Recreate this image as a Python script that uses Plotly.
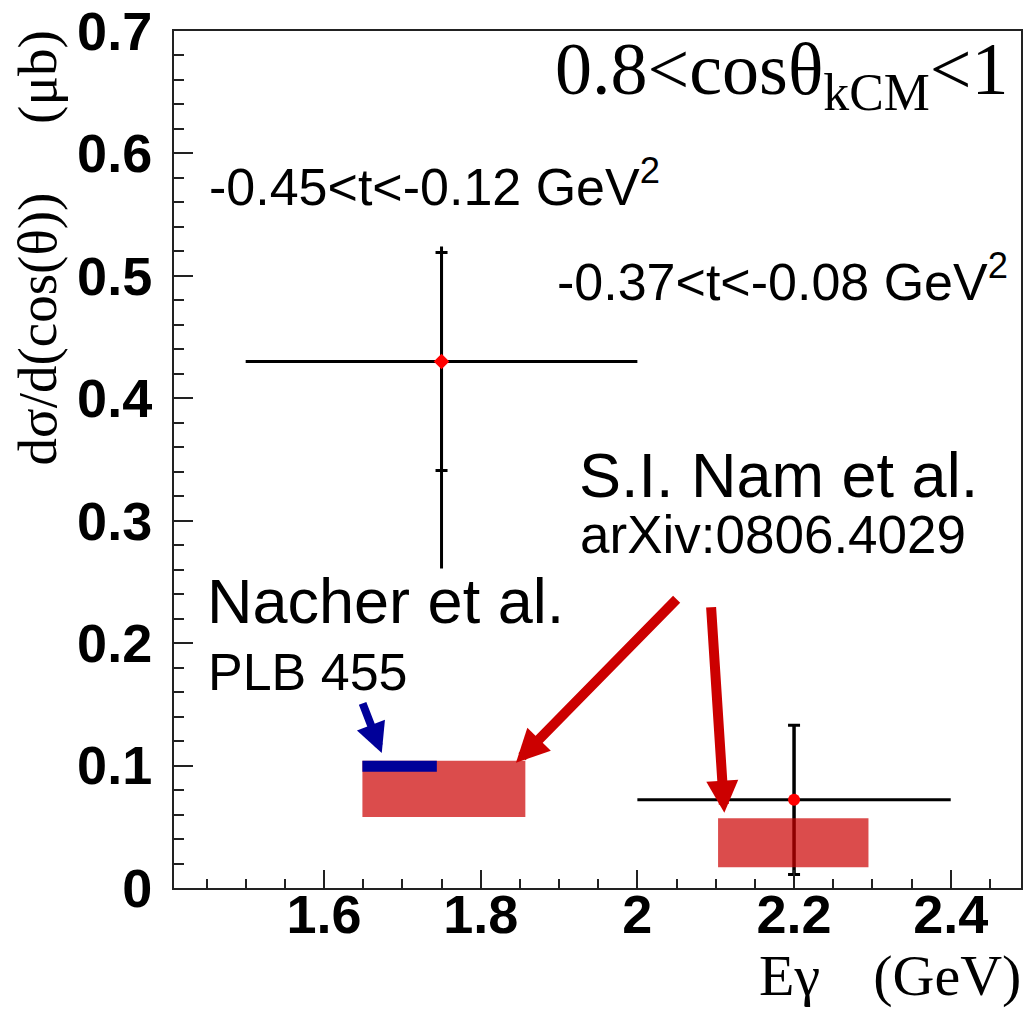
import plotly.graph_objects as go

# Measured cross sections per photon-energy bin
e_gamma = [1.75, 2.2]
e_halfwidth = [0.25, 0.2]
dsigma = [0.43, 0.072]
stat_err = [0.089, 0.061]
tot_err_plus = [0.094, 0.061]
tot_err_minus = [0.169, 0.061]
point_symbols = ["diamond", "circle"]

# S.I. Nam et al. model bands
nam_e_lo = [1.649, 2.103]
nam_e_hi = [1.857, 2.295]
nam_xs_lo = [0.058, 0.017]
nam_xs_hi = [0.104, 0.057]

# Nacher et al. prediction
nacher_e_lo = [1.649]
nacher_e_hi = [1.744]
nacher_xs_lo = [0.095]
nacher_xs_hi = [0.104]

x_ticks = [1.6, 1.8, 2.0, 2.2, 2.4]
x_tick_labels = ["1.6", "1.8", "2", "2.2", "2.4"]
y_ticks = [0, 0.1, 0.2, 0.3, 0.4, 0.5, 0.6, 0.7]
y_tick_labels = ["0", "0.1", "0.2", "0.3", "0.4", "0.5", "0.6", "0.7"]

W, H = 1025, 1009
PLOT_L, PLOT_R, PLOT_T, PLOT_B = 174, 1021, 31, 888


def px(xp):
    return (xp - PLOT_L) / (PLOT_R - PLOT_L)


def py(yp):
    return (PLOT_B - yp) / (PLOT_B - PLOT_T)


AX = "#222222"
SANS = "Liberation Sans"
SERIF = "Liberation Serif"

fig = go.Figure()

# total (stat + syst) error bars
fig.add_trace(go.Scatter(
    x=e_gamma, y=dsigma, mode="markers",
    marker=dict(size=1, color="rgba(0,0,0,0)"),
    error_y=dict(type="data", symmetric=False, array=tot_err_plus,
                 arrayminus=tot_err_minus, width=0, thickness=3, color="black"),
    hoverinfo="skip", showlegend=False,
))

# data points with bin widths and statistical errors
fig.add_trace(go.Scatter(
    x=e_gamma, y=dsigma, mode="markers",
    marker=dict(size=12, color="#ff0000", symbol=point_symbols),
    error_x=dict(type="data", array=e_halfwidth, width=0, thickness=3, color="black"),
    error_y=dict(type="data", array=stat_err, width=6, thickness=3, color="black"),
    showlegend=False,
))

shapes = []
for x0, x1, y0, y1 in zip(nam_e_lo, nam_e_hi, nam_xs_lo, nam_xs_hi):
    shapes.append(dict(type="rect", xref="x", yref="y", x0=x0, x1=x1, y0=y0, y1=y1,
                       fillcolor="rgba(204,0,0,0.7)", line=dict(width=0), layer="above"))
for x0, x1, y0, y1 in zip(nacher_e_lo, nacher_e_hi, nacher_xs_lo, nacher_xs_hi):
    shapes.append(dict(type="rect", xref="x", yref="y", x0=x0, x1=x1, y0=y0, y1=y1,
                       fillcolor="#000099", line=dict(width=0), layer="above"))

annotations = []


def label(text, xp, yp, size, family=SANS, xanchor="left", yanchor="bottom", angle=0):
    annotations.append(dict(
        text=text, xref="paper", yref="paper", x=px(xp), y=py(yp),
        xanchor=xanchor, yanchor=yanchor, showarrow=False, textangle=angle,
        borderpad=0, borderwidth=0,
        font=dict(family=family, size=size, color="black"),
    ))


label("0.8&lt;cosθ<sub>kCM</sub>&lt;1", 1009, 28, 74, SERIF, "right", "top")
label("-0.45&lt;t&lt;-0.12 GeV<sup>2</sup>", 209, 216, 52)
label("-0.37&lt;t&lt;-0.08 GeV<sup>2</sup>", 557, 311, 52)
label("S.I. Nam et al.", 579, 510, 63)
label("arXiv:0806.4029", 580, 564, 53)
label("Nacher et al.", 207, 636, 63)
label("PLB 455", 208, 701, 52)
label("Eγ\u00a0\u00a0\u00a0\u2006(GeV)", 759, 1007.5, 58, SERIF)
label("dσ/d(cos(θ))\u00a0\u00a0\u00a0\u00a0\u00a0(μb)", 36.5, 248, 55, SERIF,
      "center", "middle", -90)

# arrows pointing at the model predictions: (tail x, tail y, tip x, tip y)
arrow_tail_x = [2.052, 2.094, 1.6485]
arrow_tail_y = [0.237, 0.2305, 0.152]
arrow_tip_x = [1.845, 2.111, 1.6737]
arrow_tip_y = [0.1023, 0.0615, 0.1102]
arrow_colors = ["#cc0000", "#cc0000", "#000099"]
arrow_widths = [10, 10, 8]
arrow_sizes = [0.66, 0.64, 0.75]
for tx, ty, hx, hy, c, w, s in zip(arrow_tail_x, arrow_tail_y, arrow_tip_x, arrow_tip_y,
                                   arrow_colors, arrow_widths, arrow_sizes):
    annotations.append(dict(
        x=hx, y=hy, ax=tx, ay=ty, xref="x", yref="y", axref="x", ayref="y",
        text="", showarrow=True, arrowhead=2, arrowsize=s, arrowwidth=w,
        arrowcolor=c, standoff=0, startstandoff=0,
    ))

fig.update_layout(
    width=W, height=H,
    margin=dict(l=PLOT_L, r=W - PLOT_R, t=PLOT_T, b=H - PLOT_B, autoexpand=False),
    paper_bgcolor="white", plot_bgcolor="white",
    shapes=shapes, annotations=annotations, showlegend=False,
)

fig.update_xaxes(
    range=[1.4085, 2.4897], tickmode="array", tickvals=x_ticks, ticktext=x_tick_labels,
    ticks="inside", ticklen=18, tickwidth=2, tickcolor=AX, ticklabelstandoff=-22,
    showline=True, linecolor=AX, linewidth=2, mirror=True,
    showgrid=False, zeroline=False,
    tickfont=dict(family=SANS, size=54, color="black", weight="bold"),
    minor=dict(tickmode="linear", tick0=0, dtick=0.05, ticks="inside", ticklen=9,
               tickwidth=2, tickcolor=AX, showgrid=False),
)
fig.update_yaxes(
    range=[0, 0.7], tickmode="array", tickvals=y_ticks, ticktext=y_tick_labels,
    ticks="inside", ticklen=19, tickwidth=2, tickcolor=AX, ticklabelstandoff=9,
    showline=True, linecolor=AX, linewidth=2, mirror=True,
    showgrid=False, zeroline=False,
    tickfont=dict(family=SANS, size=54, color="black", weight="bold"),
    minor=dict(tickmode="linear", tick0=0, dtick=0.02, ticks="inside", ticklen=10,
               tickwidth=2, tickcolor=AX, showgrid=False),
)

fig.write_html("out.html")
